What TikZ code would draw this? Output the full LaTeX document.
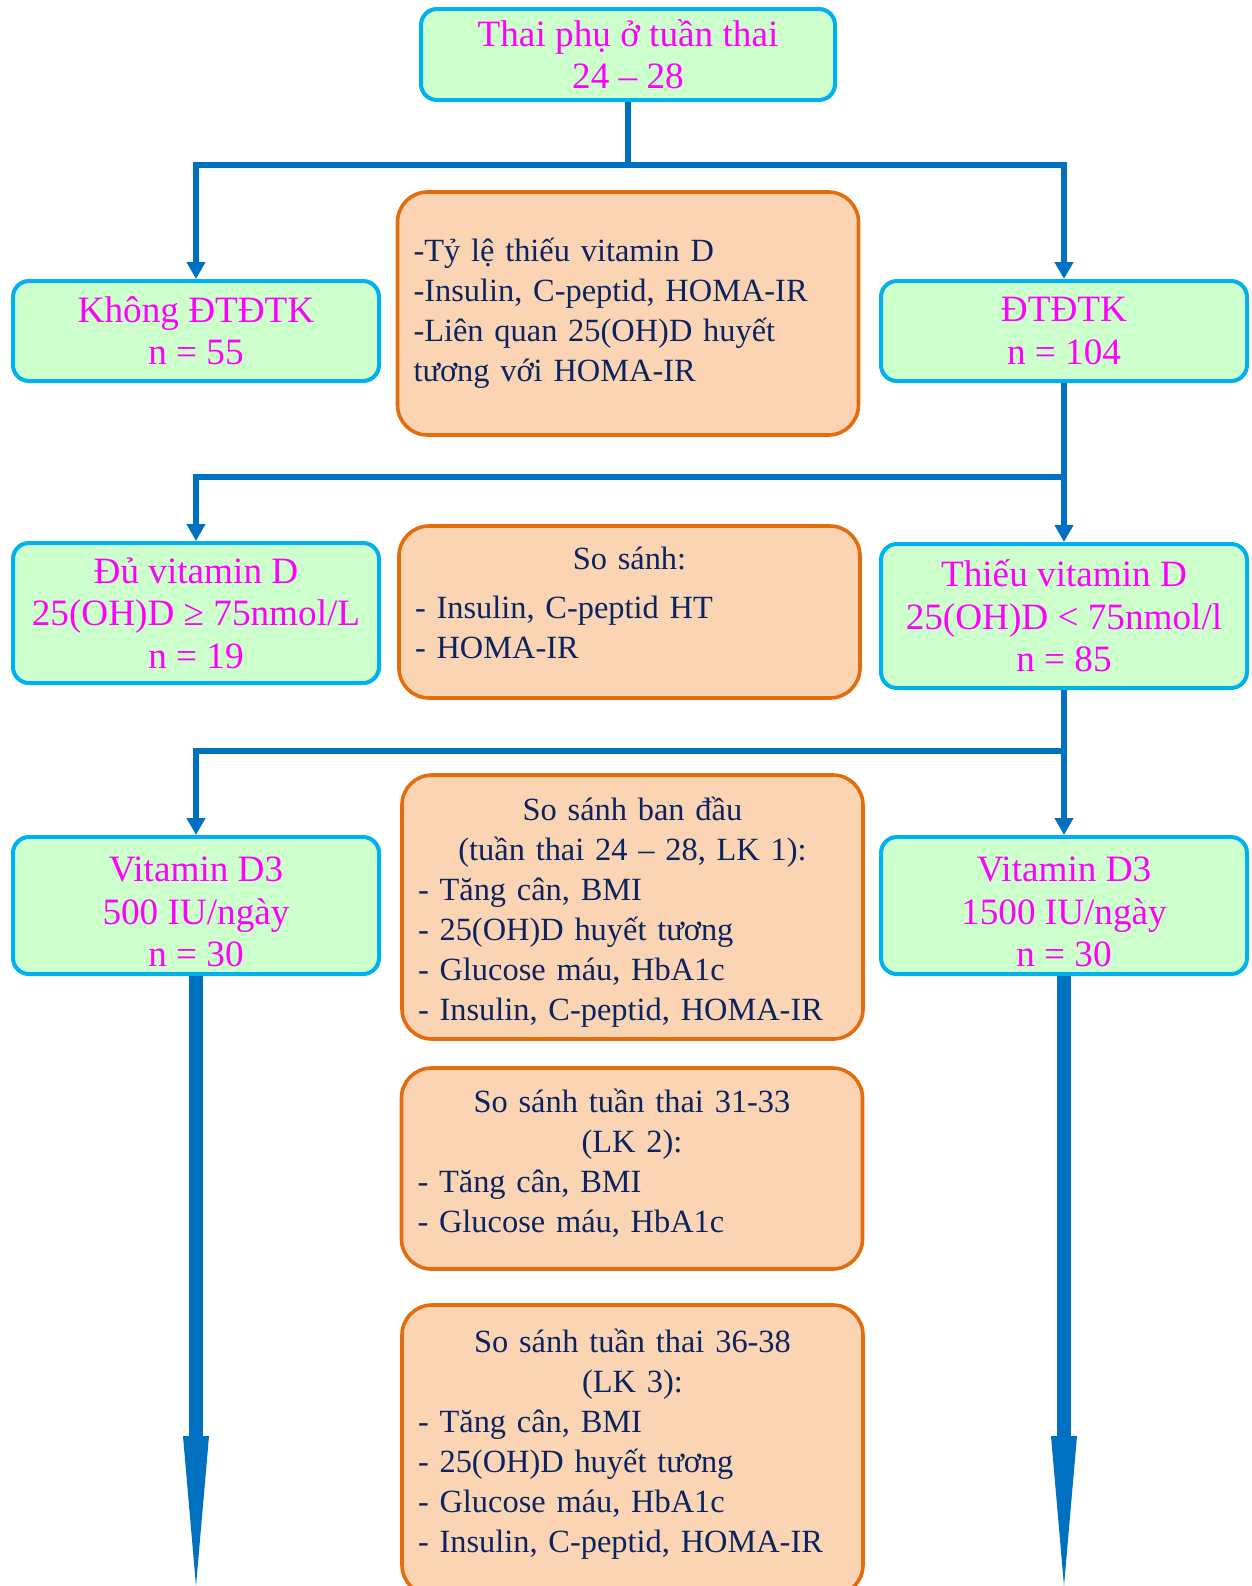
\documentclass[tikz,border=0pt]{standalone}
\usepackage{fontspec}
\setmainfont{Liberation Serif}
\usepackage{tikz}
\usetikzlibrary{arrows.meta, positioning, calc}
\definecolor{groupline}{HTML}{00B0F0}
\definecolor{groupfill}{HTML}{CCFFCC}
\definecolor{groupink}{HTML}{FF00FF}
\definecolor{cmpline}{HTML}{E46C0A}
\definecolor{cmpfill}{HTML}{FBD4B4}
\definecolor{cmpink}{HTML}{0A2461}
\definecolor{linkblue}{HTML}{0070C0}
\newcommand{\midline}[1]{\hfill#1\hfill\null}

\begin{document}
\begin{tikzpicture}[x=0.5pt, y=-0.5pt,
        group/.style={draw=groupline, line width=2pt, fill=groupfill, rounded corners=8pt, align=center, text=groupink, font=\fontsize{18.6}{21.2}\selectfont, minimum width=183pt, inner sep=2pt},
        cmpbox/.style={draw=cmpline, line width=1.8pt, fill=cmpfill, rounded corners=15pt, align=left, text=cmpink, font=\fontsize{16.2}{20}\selectfont, minimum width=230.5pt, text width=214.5pt, inner xsep=8pt},
        arrow/.style={-{Triangle[width=9pt, length=8.5pt]}, line width=2.8pt, linkblue},
        link/.style={line width=2.8pt, linkblue},
        bigarrow/.style={-{Triangle[width=13pt, length=75pt, line width=0pt]}, line width=7pt, linkblue}
    ]
        \useasboundingbox (0,0) rectangle (1252,1586);

        % groups
        \node (top) [group, minimum width=207pt, minimum height=45.5pt] at (628,54.5) {Thai phụ ở tuần thai\\24 – 28};
        \node (khong) [group, minimum height=50pt] at (196,331) {Không ĐTĐTK\\n = 55};
        \node (dtdtk) [group, minimum height=50pt] at (1064,331) {ĐTĐTK\\n = 104};
        \node (du) [group, minimum height=70pt] at (196,613) {Đủ vitamin D\\25(OH)D ≥ 75nmol/L\\n = 19};
        \node (thieu) [group, minimum height=72pt] at (1064,616) {Thiếu vitamin D\\25(OH)D < 75nmol/l\\n = 85};
        \node (vd500) [group, minimum height=68.5pt] at (196,905.5) {\mbox{}\\[-2.4pt]Vitamin D3\\500 IU/ngày\\n = 30};
        \node (vd1500) [group, minimum height=68.5pt] at (1064,905.5) {\mbox{}\\[-2.4pt]Vitamin D3\\1500 IU/ngày\\n = 30};

        % comparisons
        \node (cmp1) [cmpbox, minimum height=121.5pt] at (628,313.5) {-Tỷ lệ thiếu vitamin D\\-Insulin, C-peptid, HOMA-IR\\-Liên quan 25(OH)D huyết\\tương với HOMA-IR};
        \node (cmp2) [cmpbox, minimum height=86pt] at (629.5,612) {\midline{So sánh:}\\[4.5pt]- Insulin, C-peptid HT\\- HOMA-IR\\[-10.4pt]\mbox{}};
        \node (cmp3) [cmpbox, minimum height=132pt] at (632.5,907) {\mbox{}\\[-3.5pt]\midline{So sánh ban đầu}\\\midline{(tuần thai 24 – 28, LK 1):}\\- Tăng cân, BMI\\- 25(OH)D huyết tương\\- Glucose máu, HbA1c\\- Insulin, C-peptid, HOMA-IR};
        \node (cmp4) [cmpbox, minimum height=100.5pt] at (632,1168.5) {\midline{So sánh tuần thai 31-33}\\\midline{(LK 2):}\\- Tăng cân, BMI\\- Glucose máu, HbA1c\\[-12pt]\mbox{}};
        \node (cmp5) [cmpbox, minimum height=145pt] at (632.5,1450) {\midline{So sánh tuần thai 36-38}\\\midline{(LK 3):}\\- Tăng cân, BMI\\- 25(OH)D huyết tương\\- Glucose máu, HbA1c\\- Insulin, C-peptid, HOMA-IR\\[-10.4pt]\mbox{}};

        % branching
        \coordinate (split1) at (628,165);
        \coordinate (split2) at (1064,477);
        \coordinate (split3) at (1064,751);
        \coordinate (end500) at (196,1586);
        \coordinate (end1500) at (1064,1586);

        \draw [link] (top) -- (split1);
        \draw [arrow] (split1) -| (khong);
        \draw [arrow] (split1) -| (dtdtk);
        \draw [arrow] (dtdtk) -- (thieu);
        \draw [arrow] (split2) -| (du);
        \draw [arrow] (thieu) -- (vd1500);
        \draw [arrow] (split3) -| (vd500);
        \draw [bigarrow] (vd500) -- (end500);
        \draw [bigarrow] (vd1500) -- (end1500);
    \end{tikzpicture}
\end{document}
